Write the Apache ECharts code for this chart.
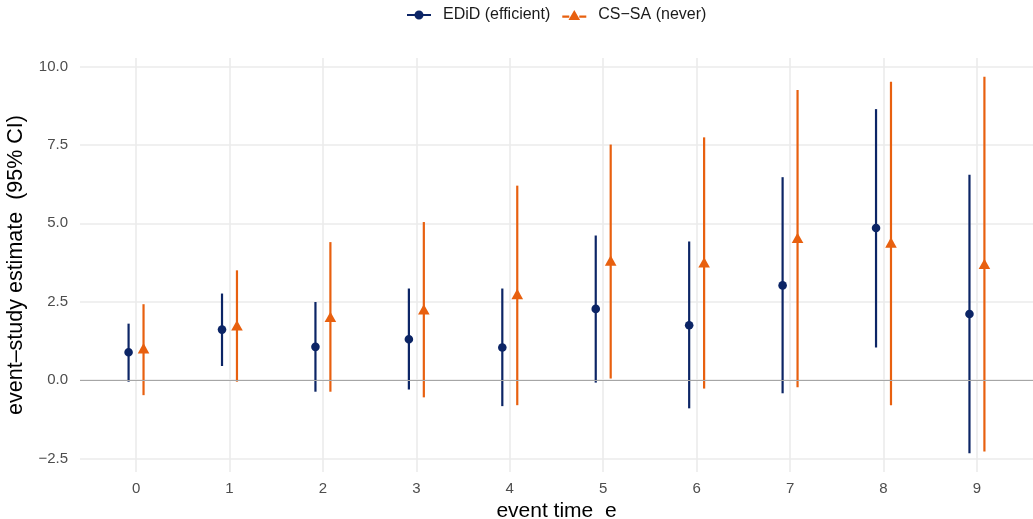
<!DOCTYPE html>
<html>
<head>
<meta charset="utf-8">
<script src="https://cdn.jsdelivr.net/npm/echarts@6/dist/echarts.min.js"></script>
<style>html,body{margin:0;padding:0;background:#fff;overflow:hidden}#c{width:1033px;height:519px}</style>
</head>
<body>
<div id="c"></div>
<script>
// ---- data ----
const eventTime = [0, 1, 2, 3, 4, 5, 6, 7, 8, 9];
const edidEst = [0.89, 1.61, 1.06, 1.30, 1.04, 2.27, 1.75, 3.02, 4.85, 2.11];
const edidLo  = [-0.05, 0.45, -0.37, -0.30, -0.83, -0.08, -0.90, -0.42, 1.04, -2.33];
const edidHi  = [1.80, 2.76, 2.49, 2.92, 2.92, 4.61, 4.42, 6.47, 8.64, 6.55];
const csEst = [0.96, 1.69, 1.96, 2.20, 2.69, 3.76, 3.70, 4.48, 4.33, 3.65];
const csLo  = [-0.48, -0.05, -0.37, -0.55, -0.80, 0.05, -0.27, -0.23, -0.80, -2.28];
const csHi  = [2.42, 3.50, 4.40, 5.04, 6.20, 7.51, 7.74, 9.25, 9.51, 9.67];
const yTicks = [-2.5, 0, 2.5, 5, 7.5, 10];
const yTickLabels = ['\u22122.5', '0.0', '2.5', '5.0', '7.5', '10.0'];
const xTicks = [0, 1, 2, 3, 4, 5, 6, 7, 8, 9];
const seriesNames = ['EDiD (efficient)', 'CS\u2212SA (never)'];

// ---- style ----
const NAVY = '#0c2566';
const ORANGE = '#e8600f';
const FONT = '"Liberation Sans", Arial, Helvetica, sans-serif';
const DODGE = 0.08;

function rows(est, lo, hi) {
  return eventTime.map((e, i) => [e, est[i], lo[i], hi[i]]);
}

function makeRender(color, shape, dodge) {
  return function (params, api) {
    const x = api.value(0) + dodge;
    const pLo = api.coord([x, api.value(2)]);
    const pHi = api.coord([x, api.value(3)]);
    const pC = api.coord([x, api.value(1)]);
    const children = [{
      type: 'line',
      shape: { x1: pLo[0], y1: pLo[1], x2: pHi[0], y2: pHi[1] },
      style: { stroke: color, lineWidth: 2.2, lineCap: 'butt' }
    }];
    if (shape === 'circle') {
      children.push({ type: 'circle', shape: { cx: pC[0], cy: pC[1], r: 4.3 }, style: { fill: color } });
    } else {
      const w = 5.8, h = 10.4;
      children.push({
        type: 'polygon',
        shape: { points: [[pC[0], pC[1] - h * 2 / 3], [pC[0] + w, pC[1] + h / 3], [pC[0] - w, pC[1] + h / 3]] },
        style: { fill: color }
      });
    }
    return { type: 'group', children: children };
  };
}

const circleIcon = 'path://M0,3.9 L8,3.9 L8,6.1 L0,6.1 Z M16,3.9 L24,3.9 L24,6.1 L16,6.1 Z M7.5,5 A4.5,4.5 0 1,1 16.5,5 A4.5,4.5 0 1,1 7.5,5 Z';
const triIcon = 'path://M0,5.6 L7,5.6 L7,7.8 L0,7.8 Z M17,5.6 L24,5.6 L24,7.8 L17,7.8 Z M12,0 L17.8,10 L6.2,10 Z';

const chart = echarts.init(document.getElementById('c'), null, { renderer: 'canvas', width: 1033, height: 519 });
chart.setOption({
  animation: false,
  backgroundColor: '#fff',
  textStyle: { fontFamily: FONT },
  legend: {
    top: 2,
    left: 402,
    itemWidth: 24,
    itemHeight: 10,
    itemGap: 12,
    textStyle: { fontFamily: FONT, fontSize: 16, color: '#1a1a1a', padding: [0, 0, 0, 7] },
    data: [
      { name: seriesNames[0], icon: circleIcon, itemStyle: { color: NAVY } },
      { name: seriesNames[1], icon: triIcon, itemStyle: { color: ORANGE } }
    ]
  },
  grid: { left: 80, right: 0, top: 58, bottom: 47, containLabel: false, outerBoundsMode: 'none' },
  xAxis: {
    type: 'value',
    min: -0.6,
    max: 9.6,
    name: 'event time  e',
    nameLocation: 'middle',
    nameGap: 26,
    nameTextStyle: { fontFamily: FONT, fontSize: 21, color: '#000' },
    axisLine: { show: false },
    axisTick: { show: false, customValues: xTicks },
    axisLabel: { customValues: xTicks, fontFamily: FONT, fontSize: 15, color: '#4d4d4d', margin: 9 },
    splitLine: { show: true, lineStyle: { color: '#ebebeb', width: 1.6 } }
  },
  yAxis: {
    type: 'value',
    min: -2.93,
    max: 10.27,
    name: 'event\u2013study estimate  (95% CI)',
    nameLocation: 'middle',
    nameGap: 41,
    nameRotate: 90,
    nameTextStyle: { fontFamily: FONT, fontSize: 21.5, color: '#000' },
    axisLine: { show: false },
    axisTick: { show: false, customValues: yTicks },
    axisLabel: {
      customValues: yTicks,
      fontFamily: FONT, fontSize: 15, color: '#4d4d4d', margin: 12,
      formatter: function (v) { const i = yTicks.indexOf(v); return i >= 0 ? yTickLabels[i] : ''; }
    },
    splitLine: { show: true, lineStyle: { color: '#ebebeb', width: 1.6 } }
  },
  series: [
    {
      name: seriesNames[0],
      type: 'custom',
      z: 3,
      itemStyle: { color: NAVY },
      renderItem: makeRender(NAVY, 'circle', -DODGE),
      encode: { x: 0, y: [1, 2, 3] },
      data: rows(edidEst, edidLo, edidHi),
      markLine: {
        silent: true,
        symbol: 'none',
        label: { show: false },
        lineStyle: { color: '#a6a6a6', width: 1.2, type: 'solid' },
        data: [{ yAxis: 0 }]
      }
    },
    {
      name: seriesNames[1],
      type: 'custom',
      z: 4,
      itemStyle: { color: ORANGE },
      renderItem: makeRender(ORANGE, 'triangle', DODGE),
      encode: { x: 0, y: [1, 2, 3] },
      data: rows(csEst, csLo, csHi)
    }
  ]
});
</script>
</body>
</html>
